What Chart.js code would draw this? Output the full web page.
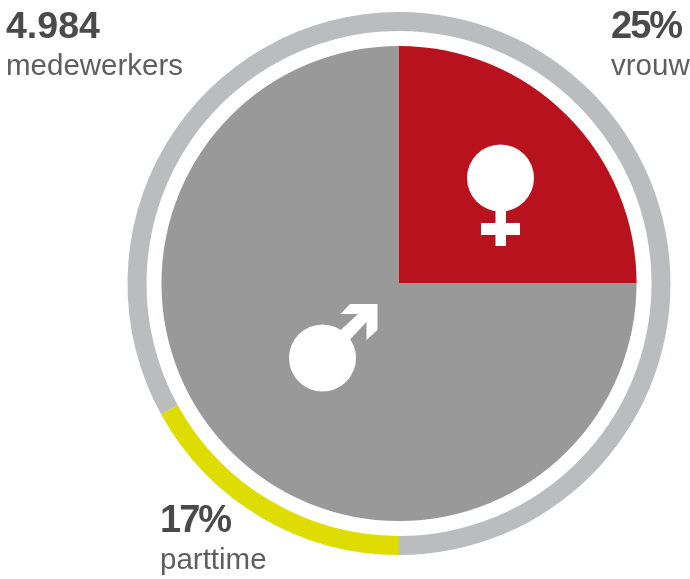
<!DOCTYPE html>
<html>
<head>
<meta charset="utf-8">
<script src="https://cdn.jsdelivr.net/npm/chart.js@4/dist/chart.umd.js"></script>
<style>
html, body { margin: 0; padding: 0; background: #fff; overflow: hidden; }
#wrap { position: relative; width: 690px; height: 579px; overflow: hidden; font-family: "Liberation Sans", Arial, sans-serif; color: #4b4a4b; }
#pie { position: absolute; left: 0; top: 0; }
.lbl { position: absolute; white-space: nowrap; }
.lbl b { display: block; font-size: 38px; line-height: 36px; letter-spacing: -2px; }
.lbl span { display: block; font-size: 29.5px; line-height: 44px; color: #5f5e5f; }
</style>
</head>
<body>
<div id="wrap">
  <canvas id="pie" width="690" height="579"></canvas>
  <div class="lbl" style="left:6px;top:6.5px"><b id="t0" style="font-size:37.5px;letter-spacing:0"></b><span id="s0"></span></div>
  <div class="lbl" style="left:611px;top:6.5px"><b id="t1"></b><span id="s1"></span></div>
  <div class="lbl" style="left:160px;top:501px"><b id="t2"></b><span id="s2"></span></div>
</div>
<script>
// Gender split (inner pie) and part-time share (outer ring), in percent
const genderLabels = ['vrouw', 'man'];
const genderValues = [25, 75];
const ringLabels = ['voltijd', 'parttime', 'voltijd'];
const ringValues = [50, 17, 33];

const headline = ['4.984', '25%', '17%'];
const captions = ['medewerkers', 'vrouw', 'parttime'];

headline.forEach((txt, i) => {
    document.getElementById('t' + i).textContent = txt;
    document.getElementById('s' + i).textContent = captions[i];
});

// White gender symbols on top of the pie
const symbols = {
    id: 'symbols',
    afterDatasetsDraw(chart) {
        const c = chart.ctx;
        c.save();
        c.fillStyle = '#fff';

        // female
        c.beginPath();
        c.arc(500.5, 178, 33.5, 0, Math.PI * 2);
        c.fill();
        c.fillRect(495.5, 205, 10.5, 41);
        c.fillRect(481, 223, 39, 12);

        // male
        c.beginPath();
        c.arc(322.5, 358, 33.5, 0, Math.PI * 2);
        c.fill();
        const arrow = [[350, 304], [377.5, 304], [377.5, 330], [366.5, 340], [366.5, 322], [340, 350], [330, 340], [358, 314], [340.5, 314]];
        c.beginPath();
        arrow.forEach((p, i) => i ? c.lineTo(p[0], p[1]) : c.moveTo(p[0], p[1]));
        c.closePath();
        c.fill();
        c.restore();
    }
};

// first dataset is the outermost one in Chart.js
new Chart(document.getElementById('pie').getContext('2d'), {
    type: 'pie',
    data: {
        labels: genderLabels,
        datasets: [
            { data: ringValues, backgroundColor: ['#bbbcbe', '#dedc00', '#bbbcbe'], borderWidth: 0, weight: 19 },
            // empty band between pie and ring
            { data: [100], backgroundColor: ['rgba(0,0,0,0)'], borderWidth: 0, weight: 15 },
            { data: genderValues, backgroundColor: ['#b9121f', '#999999'], borderWidth: 0, weight: 238 }
        ]
    },
    options: {
        responsive: false,
        animation: false,
        layout: { padding: { left: 127.5, right: 19.5, top: 11.5, bottom: 23.5 } },
        plugins: { legend: { display: false }, tooltip: { enabled: false } }
    },
    plugins: [symbols]
});
</script>
</body>
</html>
